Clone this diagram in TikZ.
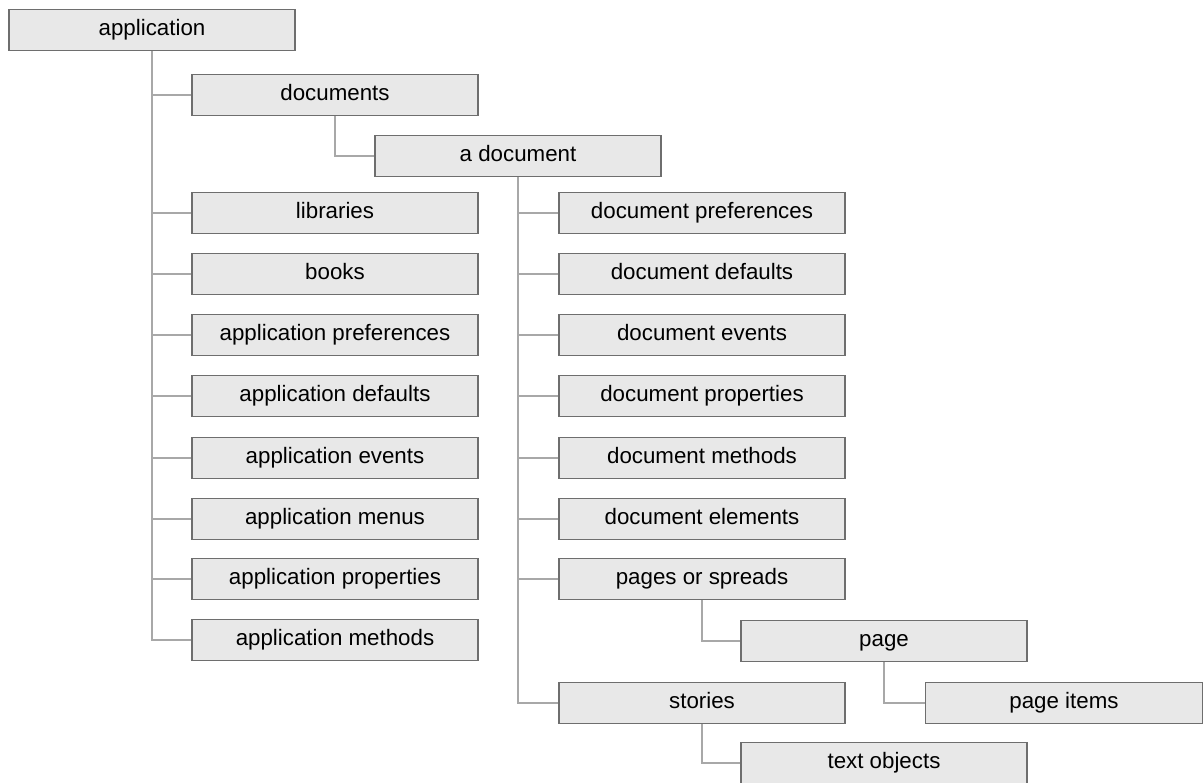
\documentclass[tikz,border=0pt]{standalone}
\usepackage{fontspec}
\setmainfont{Liberation Sans}
\usepackage{xcolor}
\usepackage{tikz}
\usetikzlibrary{positioning}
\definecolor{boxfill}{HTML}{E8E8E8}
\definecolor{boxline}{HTML}{6E6E6E}
\definecolor{wire}{HTML}{A8A8A8}
\tikzset{
  box/.style={draw=boxline, fill=boxfill, line width=0.8pt, minimum width=5.72cm, minimum height=0.82cm, inner sep=0pt, text height=0.75em, text depth=0.15em, font=\fontsize{12.7}{15}\selectfont},
  link/.style={draw=wire, line width=0.85pt}
}

\begin{document}
\begin{tikzpicture}[x=0.02cm, y=-0.02cm]
  \useasboundingbox (0,0) rectangle (1204,782);

  % Aplikace
  \node[box] (app) at (152,30) {application};
  \node[box] (docs) at (335,95) {documents};
  \node[box] (adoc) at (518,156) {a document};

  % Levy sloupec
  \node[box] (libs) at (335,213) {libraries};
  \node[box] (books) at (335,274) {books};
  \node[box] (aprefs) at (335,335) {application preferences};
  \node[box] (adefs) at (335,396) {application defaults};
  \node[box] (aevents) at (335,458) {application events};
  \node[box] (amenus) at (335,519) {application menus};
  \node[box] (aprops) at (335,579) {application properties};
  \node[box] (ameths) at (335,640) {application methods};

  % Pravy sloupec
  \node[box] (dprefs) at (702,213) {document preferences};
  \node[box] (ddefs) at (702,274) {document defaults};
  \node[box] (devents) at (702,335) {document events};
  \node[box] (dprops) at (702,396) {document properties};
  \node[box] (dmeths) at (702,458) {document methods};
  \node[box] (delems) at (702,519) {document elements};
  \node[box] (spreads) at (702,579) {pages or spreads};
  \node[box] (page) at (884,641) {page};
  \node[box, minimum width=5.54cm] (items) at (1064,703) {page items};
  \node[box] (stories) at (702,703) {stories};
  \node[box] (texts) at (884,763) {text objects};

  % Spoje
  \draw[link] (app.south) |- (docs.west);
  \draw[link] (app.south) |- (libs.west);
  \draw[link] (app.south) |- (books.west);
  \draw[link] (app.south) |- (aprefs.west);
  \draw[link] (app.south) |- (adefs.west);
  \draw[link] (app.south) |- (aevents.west);
  \draw[link] (app.south) |- (amenus.west);
  \draw[link] (app.south) |- (aprops.west);
  \draw[link] (app.south) |- (ameths.west);
  \draw[link] (docs.south) |- (adoc.west);
  \draw[link] (adoc.south) |- (dprefs.west);
  \draw[link] (adoc.south) |- (ddefs.west);
  \draw[link] (adoc.south) |- (devents.west);
  \draw[link] (adoc.south) |- (dprops.west);
  \draw[link] (adoc.south) |- (dmeths.west);
  \draw[link] (adoc.south) |- (delems.west);
  \draw[link] (adoc.south) |- (spreads.west);
  \draw[link] (adoc.south) |- (stories.west);
  \draw[link] (spreads.south) |- (page.west);
  \draw[link] (page.south) |- (items.west);
  \draw[link] (stories.south) |- (texts.west);
\end{tikzpicture}
\end{document}
